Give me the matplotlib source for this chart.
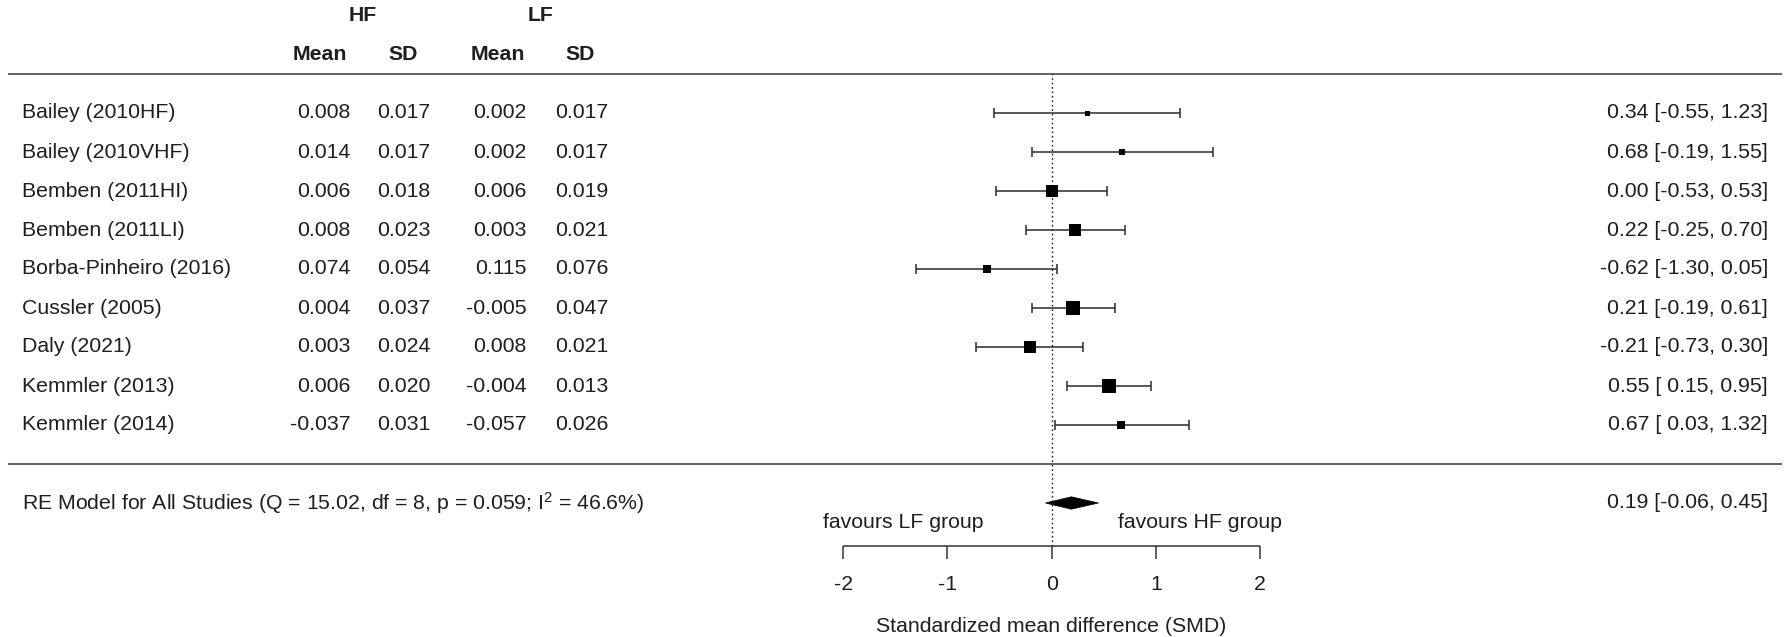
import matplotlib
matplotlib.use('Agg')
from matplotlib import pyplot as plt
from matplotlib.patches import Polygon

plt.rcParams['font.family'] = ['Liberation Sans']
plt.rcParams['mathtext.fontset'] = 'custom'
plt.rcParams['mathtext.rm'] = 'Liberation Sans'
plt.rcParams['mathtext.default'] = 'regular'

# study table
studies = ['Bailey (2010HF)', 'Bailey (2010VHF)', 'Bemben (2011HI)', 'Bemben (2011LI)',
           'Borba-Pinheiro (2016)', 'Cussler (2005)', 'Daly (2021)',
           'Kemmler (2013)', 'Kemmler (2014)']
hf_mean = [0.008, 0.014, 0.006, 0.008, 0.074, 0.004, 0.003, 0.006, -0.037]
hf_sd = [0.017, 0.017, 0.018, 0.023, 0.054, 0.037, 0.024, 0.020, 0.031]
lf_mean = [0.002, 0.002, 0.006, 0.003, 0.115, -0.005, 0.008, -0.004, -0.057]
lf_sd = [0.017, 0.017, 0.019, 0.021, 0.076, 0.047, 0.021, 0.013, 0.026]

# effect sizes (SMD) with 95% CI
smd = [0.34, 0.68, 0.00, 0.22, -0.62, 0.21, -0.21, 0.55, 0.67]
ci_lo = [-0.55, -0.19, -0.53, -0.25, -1.30, -0.19, -0.73, 0.15, 0.03]
ci_hi = [1.23, 1.55, 0.53, 0.70, 0.05, 0.61, 0.30, 0.95, 1.32]
weights = [6.2, 6.4, 12.8, 13.3, 9.1, 15.4, 12.8, 15.0, 9.9]

# random-effects summary
re_est, re_lo, re_hi = 0.19, -0.06, 0.45
q_stat, q_df, q_p, i2 = 15.02, 8, 0.059, 46.6

ticks = [-2, -1, 0, 1, 2]

DPI = 100
W, H = 1791, 637
X0, UNIT = 1051.6, 104.2    # pixel of SMD 0 and pixels per SMD unit
ROW_PX = 39.0               # row height in pixels


def px2x(p):
    return (p - X0) / UNIT


fig = plt.figure(figsize=(W / DPI, H / DPI), dpi=DPI)
ax = fig.add_axes([0, 0, 1, 1])
ax.set_xlim(px2x(0), px2x(W))
ax.set_ylim(9 - (H - 113) / ROW_PX, 9 + 113 / ROW_PX)
ax.axis('off')

fs = 15.3
tc = '#1e1e1e'
n = len(studies)
rows = list(range(n, 0, -1))

# header
ax.text(px2x(362.5), 11.5, 'HF', ha='center', va='center', fontsize=fs, weight='bold', color=tc)
ax.text(px2x(540.7), 11.5, 'LF', ha='center', va='center', fontsize=fs, weight='bold', color=tc)
for xc, lab in [(320.3, 'Mean'), (403.3, 'SD'), (497.8, 'Mean'), (580, 'SD')]:
    ax.text(px2x(xc), 10.5, lab, ha='center', va='center', fontsize=fs, weight='bold', color=tc)

# separators
ax.hlines([10, 0], px2x(8), px2x(1782), color='#555555', lw=1.3)

# reference line
ax.vlines(0, -2.1, 10, color='#222222', lw=1.0, linestyles=(0, (1.2, 2)))

# rows
wmin, wmax = min(weights), max(weights)
for i, y in enumerate(rows):
    ax.text(px2x(21.5), y, studies[i], ha='left', va='center', fontsize=fs, color=tc)
    for xr, v in [(350.7, hf_mean[i]), (430, hf_sd[i]), (526.7, lf_mean[i]), (608.3, lf_sd[i])]:
        ax.text(px2x(xr), y, f'{v:.3f}', ha='right', va='center', fontsize=fs, color=tc)
    ax.errorbar(smd[i], y, xerr=[[smd[i] - ci_lo[i]], [ci_hi[i] - smd[i]]],
                fmt='none', ecolor='#2a2a2a', elinewidth=1.1, capsize=3.3, capthick=1.1)
    side_px = 5.0 + (weights[i] - wmin) / (wmax - wmin) * 9.5
    ax.plot(smd[i], y, linestyle='none', color='black', markeredgewidth=0,
            marker='s', markersize=side_px * 72 / DPI)
    ax.text(px2x(1768), y, f'{smd[i]:.2f} [{ci_lo[i]:5.2f}, {ci_hi[i]:.2f}]',
            ha='right', va='center', fontsize=fs, color=tc)

# summary diamond
h = 6.2 / ROW_PX
ax.add_patch(Polygon([(re_lo, -1), (re_est, -1 + h), (re_hi, -1), (re_est, -1 - h)],
                     closed=True, facecolor='black', edgecolor='black', lw=0.5))
ax.text(px2x(21.5), -1, 'RE Model for All Studies (Q = %.2f, df = %d, p = %.3f; I$^2$ = %.1f%%)'
        % (q_stat, q_df, q_p, i2), ha='left', va='center', fontsize=fs, color=tc)
ax.text(px2x(1768), -1, f'{re_est:.2f} [{re_lo:.2f}, {re_hi:.2f}]',
        ha='right', va='center', fontsize=fs, color=tc)

# x axis
ya = -2.1
tick_len = 13 / ROW_PX
ax.hlines(ya, ticks[0], ticks[-1], color='#333333', lw=1.1)
ax.vlines(ticks, ya - tick_len, ya, color='#333333', lw=1.1)
for t in ticks:
    ax.text(t, ya - 39 / ROW_PX, f'{t:d}', ha='center', va='center', fontsize=fs, color=tc)
ax.text(0, ya - 81 / ROW_PX, 'Standardized mean difference (SMD)',
        ha='center', va='center', fontsize=fs, color=tc)
ax.text(px2x(903), -1.51, 'favours LF group', ha='center', va='center', fontsize=fs, color=tc)
ax.text(px2x(1200), -1.51, 'favours HF group', ha='center', va='center', fontsize=fs, color=tc)

fig.savefig('out.png', dpi=DPI, facecolor='white')
